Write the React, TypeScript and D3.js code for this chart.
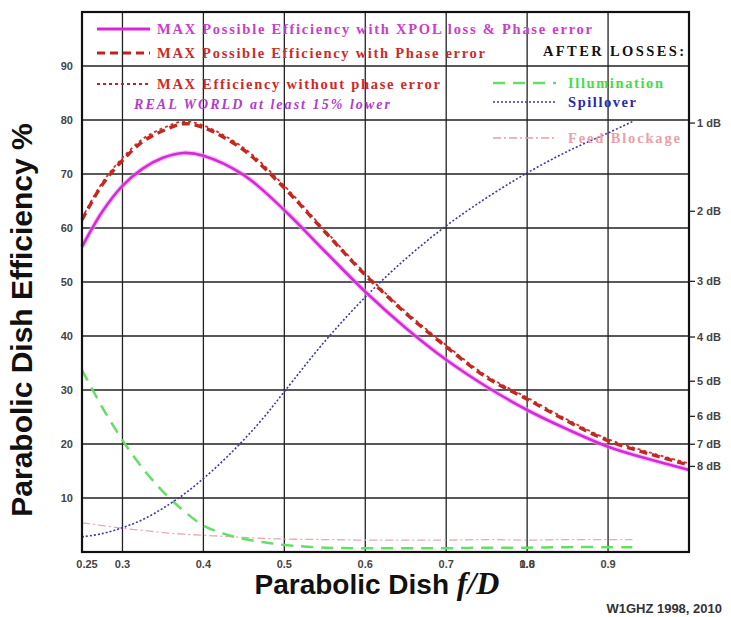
import React from "react"
import * as d3 from "d3"

// f/D sample points for the efficiency curves
const fd = [0.25, 0.275, 0.3, 0.325, 0.35, 0.375, 0.4, 0.45, 0.5, 0.55, 0.6, 0.65, 0.7, 0.75, 0.8, 0.85, 0.9, 0.95, 1.0]
const effXpol = [56.5, 63, 67.8, 71, 73, 73.9, 73.4, 69.8, 63.3, 55.7, 48.2, 41.5, 35.6, 30.6, 26.3, 22.7, 19.5, 17.2, 15.2]
const effPhase = [61.5, 68, 72.5, 76, 78, 79.3, 78.6, 74.4, 67.4, 59.3, 51.3, 44.2, 38.0, 32.3, 28.3, 24.2, 20.6, 18.2, 16.1]
const effNoPhase = [61.8, 68.4, 73, 76.5, 78.5, 79.7, 79, 74.8, 67.8, 59.6, 51.6, 44.5, 38.3, 32.6, 28.6, 24.5, 20.9, 18.5, 16.4]

// loss curves (after losses)
const lossFd = [0.25, 0.275, 0.3, 0.325, 0.35, 0.375, 0.4, 0.425, 0.45, 0.475, 0.5, 0.55, 0.6, 0.65, 0.7, 0.75, 0.8, 0.85, 0.9, 0.93]
const illumination = [33.7, 26.8, 20.7, 15.5, 11.2, 7.7, 4.9, 3.4, 2.4, 1.8, 1.3, 0.8, 0.7, 0.7, 0.7, 0.8, 0.8, 0.9, 0.9, 0.9]
const spillover = [2.8, 3.4, 4.5, 6, 8.1, 10.6, 13.6, 17.0, 20.8, 25.0, 29.7, 39, 47.2, 54.3, 60.4, 65.6, 70.2, 74.2, 77.6, 79.7]
const feedBlockage = [5.4, 4.9, 4.4, 4.0, 3.6, 3.3, 3.1, 2.9, 2.7, 2.5, 2.4, 2.3, 2.2, 2.2, 2.2, 2.3, 2.2, 2.3, 2.3, 2.3]

const yTicks = [10, 20, 30, 40, 50, 60, 70, 80, 90]
const xTicks = [0.3, 0.4, 0.5, 0.6, 0.7, 0.8, 0.9]
const xTickLabels = ["0.25", "0.3", "0.4", "0.5", "0.6", "0.7", "0.8", "0.9"]
const dbTicks = [1, 2, 3, 4, 5, 6, 7, 8]

const W = 731
const H = 617
const margin = { left: 82, right: 42, top: 12, bottom: 65 }

const App = () => {
    const x = d3.scaleLinear().domain([0.25, 1.0]).range([margin.left, W - margin.right])
    const y = d3.scaleLinear().domain([0, 100]).range([H - margin.bottom, margin.top])

    const mk = (xs: number[], ys: number[]) =>
        d3.line<number>().x((d, i) => x(xs[i])).y(d => y(d)).curve(d3.curveCatmullRom.alpha(0.5))(ys) || ""

    const serif = "'Liberation Serif', 'Times New Roman', serif"
    const sans = "'Liberation Sans', Arial, sans-serif"
    const x0 = margin.left
    const x1 = W - margin.right
    const yTop = margin.top
    const yBot = H - margin.bottom

    const legendLeft = [
        { y: 29, text: "MAX Possible Efficiency with XPOL loss & Phase error", color: "#cc3ccc", stroke: "#dd22dd", dash: "", sw: 3, len: 435 },
        { y: 53, text: "MAX Possible Efficiency with Phase error", color: "#cc2a2a", stroke: "#c42020", dash: "8,5", sw: 3, len: 328 },
        { y: 84, text: "MAX Efficiency without phase error", color: "#cc2a2a", stroke: "#c42020", dash: "3,3", sw: 2, len: 283 },
    ]
    const legendRight = [
        { y: 83, text: "Illumination", color: "#44dd44", stroke: "#66dd66", dash: "12,8", sw: 2.5, len: 95 },
        { y: 102, text: "Spillover", color: "#2a2aa8", stroke: "#3a3aa0", dash: "2,2", sw: 1.5, len: 68 },
        { y: 138, text: "Feed Blockage", color: "#eaa0a8", stroke: "#e0a0a8", dash: "8,3,2,3", sw: 1.3, len: 112 },
    ]

    return (
        <svg width={W} height={H} style={{ position: "absolute", left: 0, top: 0, background: "#fff" }}>
            {/* grid */}
            {yTicks.map(t => (
                <line key={"gy" + t} x1={x0} x2={x1} y1={y(t)} y2={y(t)} stroke="#222" strokeWidth={1.3} />
            ))}
            {xTicks.map(t => (
                <line key={"gx" + t} x1={x(t)} x2={x(t)} y1={yTop} y2={yBot} stroke="#222" strokeWidth={1.3} />
            ))}

            {/* loss curves */}
            <path d={mk(lossFd, feedBlockage)} fill="none" stroke="#e8a8b0" strokeWidth={1.3} strokeDasharray="8,3,2,3" />
            <path d={mk(lossFd, illumination)} fill="none" stroke="#66dd66" strokeWidth={2.5} strokeDasharray="12,8" />
            <path d={mk(lossFd, spillover)} fill="none" stroke="#3a3aa0" strokeWidth={1.6} strokeDasharray="2,2" />

            {/* efficiency curves */}
            <path d={mk(fd, effXpol)} fill="none" stroke="#f2a0f2" strokeWidth={5} opacity={0.6} />
            <path d={mk(fd, effXpol)} fill="none" stroke="#d42ad8" strokeWidth={2.6} />
            <path d={mk(fd, effNoPhase)} fill="none" stroke="#d03030" strokeWidth={1.8} strokeDasharray="3,3" />
            <path d={mk(fd, effPhase)} fill="none" stroke="#c02a1e" strokeWidth={3.4} strokeDasharray="8,5" />

            {/* frame */}
            <rect x={x0} y={yTop} width={x1 - x0} height={yBot - yTop} fill="none" stroke="#111" strokeWidth={2.2} />

            {/* left axis labels */}
            {yTicks.map(t => (
                <text key={"ly" + t} x={x0 - 9} y={y(t) + 4} textAnchor="end" fontFamily={sans} fontWeight="bold" fontSize={11} fill="#444">{t}</text>
            ))}
            {/* bottom axis labels */}
            {[0.25, ...xTicks].map((t, i) => (
                <text key={"lx" + t} x={x(t) + (i === 0 ? 5 : 0)} y={yBot + 16} textAnchor="middle" fontFamily={sans} fontWeight="bold" fontSize={11} fill="#444">{xTickLabels[i]}</text>
            ))}
            <text x={x(0.8)} y={yBot + 16} textAnchor="middle" fontFamily={sans} fontWeight="bold" fontSize={11} fill="#444">1.0</text>

            {/* right dB axis */}
            {dbTicks.map(db => {
                const yy = y(100 * Math.pow(10, -db / 10))
                return (
                    <g key={"db" + db}>
                        <line x1={x1} x2={x1 + 6} y1={yy} y2={yy} stroke="#222" strokeWidth={1.3} />
                        <text x={x1 + 8} y={yy + 4} fontFamily={sans} fontWeight="bold" fontSize={11} fill="#444">{db} dB</text>
                    </g>
                )
            })}

            {/* legend */}
            {legendLeft.map(l => (
                <g key={l.text}>
                    <line x1={97} x2={150} y1={l.y} y2={l.y} stroke={l.stroke} strokeWidth={l.sw} strokeDasharray={l.dash} />
                    <text x={157} y={l.y + 5} fontFamily={serif} fontWeight="bold" fontSize={14.5} fill={l.color} textLength={l.len} lengthAdjust="spacing">{l.text}</text>
                </g>
            ))}
            <text x={134} y={109} fontFamily={serif} fontWeight="bold" fontStyle="italic" fontSize={14} fill="#b03ccc" textLength={256} lengthAdjust="spacing">REAL WORLD at least 15% lower</text>
            <text x={543} y={56} fontFamily={serif} fontWeight="bold" fontSize={14.5} fill="#111" textLength={141} lengthAdjust="spacing">AFTER LOSSES:</text>
            {legendRight.map(l => (
                <g key={l.text}>
                    <line x1={493} x2={556} y1={l.y} y2={l.y} stroke={l.stroke} strokeWidth={l.sw} strokeDasharray={l.dash} />
                    <text x={568} y={l.y + 5} fontFamily={serif} fontWeight="bold" fontSize={14.5} fill={l.color} textLength={l.len} lengthAdjust="spacing">{l.text}</text>
                </g>
            ))}

            {/* axis titles */}
            <text transform={`translate(32,${(yTop + yBot) / 2 + 38}) rotate(-90)`} textAnchor="middle" fontFamily={sans} fontWeight="bold" fontSize={30} fill="#111">Parabolic Dish Efficiency %</text>
            <text x={377} y={594} textAnchor="middle" fontFamily={sans} fontWeight="bold" fontSize={28} fill="#111">
                Parabolic Dish <tspan fontFamily={serif} fontStyle="italic" fontSize={32}>f/D</tspan>
            </text>
            <text x={722} y={613} textAnchor="end" fontFamily={sans} fontWeight="bold" fontSize={13} fill="#333">W1GHZ 1998, 2010</text>
        </svg>
    )
}

export default App
